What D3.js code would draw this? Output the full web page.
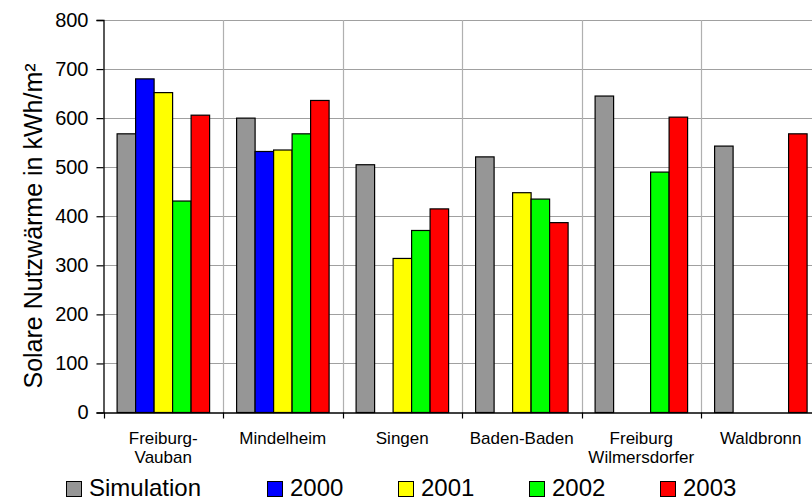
<!DOCTYPE html>
<html>
<head>
<meta charset="utf-8">
<script src="https://cdn.jsdelivr.net/npm/d3@7"></script>
<style>
  html, body { margin: 0; padding: 0; background: #fff; }
  svg { display: block; font-family: Arial, "Liberation Sans", sans-serif; }
</style>
</head>
<body>
<svg id="chart" width="812" height="498"></svg>
<script>
// Solar useful heat per site: simulation vs. measured years
const sites = ["Freiburg-\nVauban", "Mindelheim", "Singen", "Baden-Baden", "Freiburg\nWilmersdorfer", "Waldbronn"];
const seriesNames = ["Simulation", "2000", "2001", "2002", "2003"];
const seriesColors = ["#969696", "#0000ff", "#ffff00", "#00ff00", "#ff0000"];
const simulation = [568, 600, 505, 521, 645, 543];
const y2000 = [680, 532, null, null, null, null];
const y2001 = [652, 535, 314, 448, null, null];
const y2002 = [431, 568, 371, 435, 490, null];
const y2003 = [606, 636, 415, 387, 602, 568];
const yTicks = [0, 100, 200, 300, 400, 500, 600, 700, 800];
const yTitle = "Solare Nutzwärme  in kWh/m²";

const seriesValues = [simulation, y2000, y2001, y2002, y2003];

const svg = d3.select("#chart");
const plot = { left: 103.5, top: 20, bottom: 412.5, step: 119.5 };

const x0 = d3.scaleBand()
  .domain(d3.range(sites.length))
  .range([plot.left, plot.left + plot.step * sites.length])
  .padding(0);

const x1 = d3.scaleBand()
  .domain(seriesNames)
  .range([13.6, x0.bandwidth() - 13.4])
  .padding(0);

const y = d3.scaleLinear().domain([0, 800]).range([plot.bottom, plot.top]);

// horizontal gridlines
svg.append("g")
  .selectAll("line")
  .data(yTicks.filter(d => d > 0))
  .join("line")
  .attr("x1", plot.left)
  .attr("x2", 812)
  .attr("y1", d => Math.round(y(d)) + 0.5)
  .attr("y2", d => Math.round(y(d)) + 0.5)
  .attr("stroke", "#a0a0a0")
  .attr("stroke-width", 1.2);

// vertical gridlines between sites
svg.append("g")
  .selectAll("line")
  .data(d3.range(1, sites.length + 1))
  .join("line")
  .attr("x1", d => Math.round(x0(0) + d * x0.step()) + 0.5)
  .attr("x2", d => Math.round(x0(0) + d * x0.step()) + 0.5)
  .attr("y1", plot.top)
  .attr("y2", plot.bottom)
  .attr("stroke", "#b0b0b0")
  .attr("stroke-width", 1.2);

// bars
const groups = svg.append("g")
  .selectAll("g")
  .data(sites.map((s, i) => i))
  .join("g")
  .attr("transform", i => `translate(${x0(i)},0)`);

groups.selectAll("rect")
  .data(i => seriesNames.map((name, k) => ({ name, k, v: seriesValues[k][i] })).filter(d => d.v != null))
  .join("rect")
  .attr("x", d => x1(d.name))
  .attr("width", x1.bandwidth())
  .attr("y", d => y(d.v))
  .attr("height", d => y(0) - y(d.v))
  .attr("fill", d => seriesColors[d.k])
  .attr("stroke", "#000")
  .attr("stroke-width", 1.2);

// y axis
const yAxis = d3.axisLeft(y).tickValues(yTicks).tickSize(7).tickPadding(8);
const gy = svg.append("g")
  .attr("transform", `translate(${plot.left},0)`)
  .call(yAxis);
gy.select(".domain").attr("stroke", "#000").attr("stroke-width", 1.3);
gy.selectAll(".tick line").attr("stroke", "#000").attr("stroke-width", 1.2);
gy.selectAll(".tick text")
  .attr("font-size", 20)
  .attr("font-family", "Arial, 'Liberation Sans', sans-serif")
  .attr("fill", "#000");

// x axis
const xAxis = d3.axisBottom(x0).tickValues([]).tickSizeOuter(0);
const gx = svg.append("g")
  .attr("transform", `translate(0,${plot.bottom})`)
  .call(xAxis);
gx.select(".domain").attr("stroke", "#000").attr("stroke-width", 1.3);
gx.selectAll("line.sep")
  .data(d3.range(0, sites.length + 1))
  .join("line")
  .attr("class", "sep")
  .attr("x1", d => Math.round(x0(0) + d * x0.step()) + 0.5)
  .attr("x2", d => Math.round(x0(0) + d * x0.step()) + 0.5)
  .attr("y1", 0)
  .attr("y2", 6)
  .attr("stroke", "#000")
  .attr("stroke-width", 1.2);

// site labels
const labels = svg.append("g")
  .selectAll("text")
  .data(sites.map((s, i) => ({ s, i })))
  .join("text")
  .attr("text-anchor", "middle")
  .attr("font-size", 17)
  .attr("fill", "#000")
  .attr("x", d => x0(d.i) + x0.bandwidth() / 2)
  .attr("y", 444);
labels.selectAll("tspan")
  .data(d => d.s.split("\n").map((t, j) => ({ t, j, x: x0(d.i) + x0.bandwidth() / 2 })))
  .join("tspan")
  .attr("x", d => d.x)
  .attr("dy", d => d.j === 0 ? 0 : 19)
  .text(d => d.t);

// y axis title
svg.append("text")
  .attr("transform", "translate(42,226) rotate(-90)")
  .attr("text-anchor", "middle")
  .attr("font-size", 25)
  .attr("fill", "#000")
  .text(yTitle);

// legend
const legendX = [66, 267, 398, 529, 660];
const legend = svg.append("g")
  .selectAll("g")
  .data(seriesNames.map((n, k) => ({ n, k })))
  .join("g")
  .attr("transform", d => `translate(${legendX[d.k]},0)`);
legend.append("rect")
  .attr("x", 0.5)
  .attr("y", 481.5)
  .attr("width", 15)
  .attr("height", 15)
  .attr("fill", d => seriesColors[d.k])
  .attr("stroke", "#000")
  .attr("stroke-width", 1);
legend.append("text")
  .attr("x", 23)
  .attr("y", 496)
  .attr("font-size", 24)
  .attr("fill", "#000")
  .text(d => d.n);
</script>
</body>
</html>
